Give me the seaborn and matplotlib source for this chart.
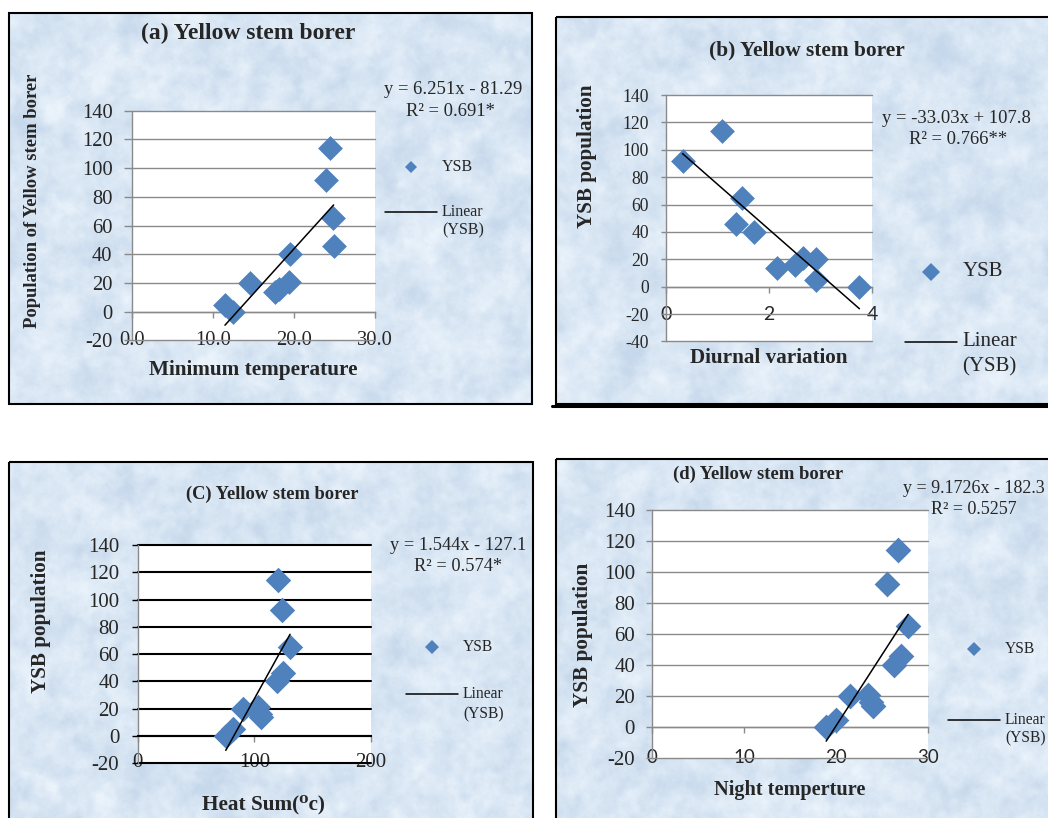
import numpy as np
import matplotlib
matplotlib.use("Agg")
import matplotlib.pyplot as plt
from matplotlib.patches import Rectangle
from matplotlib.lines import Line2D
import seaborn as sns

# ---------------------------------------------------------------
# Data: YSB population per observation and the weather variables
# ---------------------------------------------------------------
ysb_population = [114, 92, 65, 46, 40, 21, 20, 16, 14, 5, 0]

min_temperature = [24.5, 24.0, 24.8, 24.9, 19.5, 19.4, 14.6, 18.2, 17.7, 11.5, 12.5]
diurnal_variation = [1.09, 0.32, 1.47, 1.36, 1.71, 2.66, 2.91, 2.50, 2.15, 2.91, 3.75]
heat_sum = [120.0, 123.4, 130.6, 124.3, 119.1, 102.9, 90.6, 104.5, 105.7, 82.0, 75.5]
night_temperature = [26.7, 25.5, 27.8, 27.0, 26.3, 23.4, 21.5, 23.8, 24.0, 20.0, 18.9]

# fitted linear trend lines (slope, intercept) and their labels
slopes = [6.251, -33.03, 1.544, 9.1726]
intercepts = [-81.29, 107.8, -127.1, -182.3]
equation_labels = ["y = 6.251x - 81.29", "y = -33.03x + 107.8",
                   "y = 1.544x - 127.1", "y = 9.1726x - 182.3"]
r2_labels = ["R² = 0.691*", "R² = 0.766**", "R² = 0.574*", "R² = 0.5257"]

titles = ["(a) Yellow stem borer", "(b) Yellow stem borer",
          "(C) Yellow stem borer", "(d) Yellow stem borer"]
x_titles = ["Minimum temperature", "Diurnal variation", "Heat Sum(⁰c)", "Night temperture"]
y_titles = ["Population of Yellow stem borer", "YSB population",
            "YSB population", "YSB population"]

x_ticks = [[0, 10, 20, 30], [0, 2, 4], [0, 100, 200], [0, 10, 20, 30]]
x_tick_labels = [["0.0", "10.0", "20.0", "30.0"], ["0", "2", "4"],
                 ["0", "100", "200"], ["0", "10", "20", "30"]]
x_limits = [(0, 30), (0, 4), (0, 200), (0, 30)]
y_limits = [(-20, 140), (-40, 140), (-20, 140), (-20, 140)]

# ---------------------------------------------------------------
# Figure setup (layout expressed in pixels of a 1048 x 818 canvas)
# ---------------------------------------------------------------
sns.set_style("white")
plt.rcParams["font.family"] = ["Liberation Serif", "DejaVu Serif"]
plt.rcParams["axes.unicode_minus"] = False

W, H = 1048, 818
BLUE = "#4F81BD"
GRID = "#8a8a8a"

fig = plt.figure(figsize=(W / 100, H / 100), dpi=100)
bg = fig.add_axes([0, 0, 1, 1], zorder=0)
bg.set_xlim(0, W)
bg.set_ylim(H, 0)
bg.axis("off")

# chart-area boxes (left, top, right, bottom)
boxes = [(8.6, 13.3, 532, 404), (556, 16.7, 1062, 403.5),
         (8.6, 461.7, 533, 830), (556, 458.7, 1062, 830)]

# light-blue paper texture for the chart areas
rng = np.random.default_rng(11)


def blurred_noise(sigma):
    n = rng.standard_normal((H, W))
    fy = np.fft.fftfreq(H)[:, None]
    fx = np.fft.fftfreq(W)[None, :]
    k = np.exp(-2 * (np.pi * sigma) ** 2 * (fx ** 2 + fy ** 2))
    out = np.fft.ifft2(np.fft.fft2(n) * k).real
    return out / out.std()


tex = 0.55 * blurred_noise(9) + 0.35 * blurred_noise(3) + 0.15 * blurred_noise(1)
tex = np.clip(tex / 1.5, -1.4, 1.4)
mid = np.array([0.85, 0.902, 0.955])
dev = np.array([0.05, 0.038, 0.022])
paper = mid[None, None, :] + tex[..., None] * dev[None, None, :]
img = np.ones((H, W, 3))
yy, xx = np.mgrid[0:H, 0:W] + 0.5
for (l, t, r, b) in boxes:
    m = (xx >= l) & (xx <= r) & (yy >= t) & (yy <= b)
    img[m] = paper[m]
bg.imshow(np.clip(img, 0, 1), extent=(0, W, H, 0), interpolation="nearest",
          aspect="auto", zorder=0)
for (l, t, r, b) in boxes:
    bg.add_patch(Rectangle((l, t), r - l, b - t, fill=False, ec="black",
                           lw=1.5, zorder=1))
bg.add_line(Line2D([552, W], [405.5, 405.5], color="black", lw=2.2, zorder=1))

# plot-area rectangles: x at left/right limit, y at top/bottom limit
plot_areas = [(131.7, 375.0, 110.7, 340.4), (666.0, 872.3, 95.0, 341.5),
              (137.7, 371.0, 545.0, 763.3), (652.3, 928.3, 510.0, 758.3)]
grid_colors = [GRID, GRID, "black", GRID]
grid_widths = [1.0, 1.0, 1.5, 1.0]
zero_colors = [GRID, GRID, "black", GRID]
ytick_size = [14.8, 12.7, 15.0, 15.0]
ytick_len = [5.8, 3.6, 4.3, 4.3]
ytick_pad = [8.0, 8.6, 8.9, 8.1]
xtick_size = [14.8, 14.0, 15.0, 13.5]
xtick_font = [["Liberation Serif"], ["Lato", "DejaVu Sans"],
              ["Liberation Serif"], ["Lato", "DejaVu Sans"]]
xtick_pad = [9.7, 9.5, 7.8, 11.7]
marker_area = [160, 160, 168, 172]
x_data = [min_temperature, diurnal_variation, heat_sum, night_temperature]

for i in range(4):
    x0, x1, yt, yb = plot_areas[i]
    ax = fig.add_axes([x0 / W, 1 - yb / H, (x1 - x0) / W, (yb - yt) / H], zorder=2)
    ax.set_facecolor("white")

    xv = np.array(x_data[i])
    sns.scatterplot(x=xv, y=ysb_population, ax=ax, marker="D", s=marker_area[i],
                    color=BLUE, linewidth=0, zorder=3, legend=False, clip_on=False)
    xs = np.array([xv.min(), xv.max()])
    sns.lineplot(x=xs, y=slopes[i] * xs + intercepts[i], ax=ax, color="black",
                 lw=1.1, zorder=4, legend=False)

    ax.set_xlim(*x_limits[i])
    ax.set_ylim(*y_limits[i])
    yt_vals = list(range(y_limits[i][0], y_limits[i][1] + 1, 20))
    ax.set_yticks(yt_vals)
    ax.set_yticklabels([str(v) for v in yt_vals])
    ax.set_xticks(x_ticks[i])
    ax.set_xticklabels(x_tick_labels[i])
    ax.set_xlabel("")
    ax.set_ylabel("")

    ax.grid(False)
    ax.grid(axis="y", color=grid_colors[i], lw=grid_widths[i])
    for gl in ax.get_ygridlines():
        gl.set_clip_on(False)
    ax.set_axisbelow(True)

    for s in ("top", "right"):
        ax.spines[s].set_visible(False)
    ax.spines["bottom"].set_position(("data", 0))
    ax.spines["bottom"].set_color(zero_colors[i])
    ax.spines["bottom"].set_linewidth(grid_widths[i])
    ax.spines["left"].set_color(GRID)
    ax.spines["left"].set_linewidth(1.0)

    ax.tick_params(axis="y", direction="out", length=ytick_len[i], width=1.0,
                   color=grid_colors[i], pad=ytick_pad[i], labelsize=ytick_size[i],
                   left=True)
    ax.tick_params(axis="x", direction="out", length=4.3, width=1.0, color=GRID,
                   pad=xtick_pad[i], labelsize=xtick_size[i], bottom=True)
    for lab in ax.get_xticklabels():
        lab.set_family(xtick_font[i])

# ---------------------------------------------------------------
# Titles, axis titles, trend-line equations and legends
# ---------------------------------------------------------------
title_pos = [(248, 33.3, 17), (806.7, 50, 15.4), (272, 494.3, 13.3), (758.3, 474.3, 13.4)]
ytitle_pos = [(32.7, 201, 13.4), (586.7, 156.7, 15.2), (41.3, 621.7, 15.2), (583.3, 635, 15.3)]
xtitle_pos = [(253, 370, 15.3), (768.3, 358.3, 15.2), (263.4, 804.3, 15.3), (790, 790, 14.6)]

for i in range(4):
    x, y, fs = title_pos[i]
    bg.text(x, y, titles[i], ha="center", va="center", fontsize=fs, fontweight="bold")
    x, y, fs = ytitle_pos[i]
    bg.text(x, y, y_titles[i], ha="center", va="center", rotation=90,
            fontsize=fs, fontweight="bold")
    x, y, fs = xtitle_pos[i]
    bg.text(x, y, x_titles[i], ha="center", va="center", fontsize=fs,
            fontweight="bold")

# equations
eq_pos = [((452.8, 89.3), (451, 111), 13.4, "center"),
          ((956.7, 118.3), (958, 140), 13.4, "center"),
          ((458, 545.7), (458, 566.7), 13.2, "center"),
          ((903.3, 488.3), (931, 510), 13.0, "left")]
for i in range(4):
    p1, p2, fs, ha = eq_pos[i]
    bg.text(p1[0], p1[1], equation_labels[i], ha=ha, va="center", fontsize=fs)
    bg.text(p2[0], p2[1], r2_labels[i], ha=ha, va="center", fontsize=fs)

# legends: (marker x, y, size), (line x0, x1, y), text x, text size, second-line y
legend_spec = [((410.8, 166.7, 6.6), (385, 436.6, 211.7), 442.0, 11.5, 230.0),
               ((931.0, 271.7, 8.9), (905, 956.7, 341.7), 962.5, 15.0, 366.7),
               ((431.5, 646.7, 6.9), (406, 458, 694.3), 463.0, 11.2, 714.3),
               ((974.0, 649.0, 7.2), (948.3, 1000, 720.0), 1005.0, 11.2, 738.3)]
for (mk, ln, tx, fs, y2) in legend_spec:
    bg.add_line(Line2D([mk[0]], [mk[1]], marker="D", ms=mk[2], color=BLUE,
                       ls="none", mew=0, zorder=3))
    bg.text(tx, mk[1], "YSB", ha="left", va="center", fontsize=fs)
    bg.add_line(Line2D([ln[0], ln[1]], [ln[2], ln[2]], color="black", lw=1.1, zorder=3))
    bg.text(tx, ln[2], "Linear", ha="left", va="center", fontsize=fs)
    bg.text(tx, y2, "(YSB)", ha="left", va="center", fontsize=fs)

fig.savefig("out.png", dpi=100)
